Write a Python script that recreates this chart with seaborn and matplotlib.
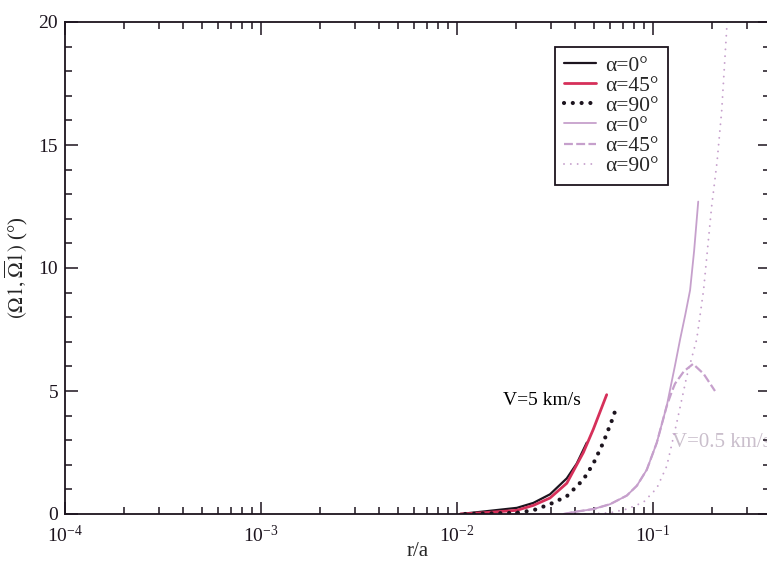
import numpy as np
import pandas as pd
import matplotlib
matplotlib.use('Agg')
import matplotlib.pyplot as plt
from matplotlib.ticker import MultipleLocator
import seaborn as sns

sns.set_style('ticks')
plt.rcParams['font.family'] = ['Liberation Serif', 'DejaVu Serif']
plt.rcParams['mathtext.fontset'] = 'stix'

# V = 5 km/s
r_v5_a0 = [0.0104, 0.0136, 0.0202, 0.0245, 0.0298, 0.0363, 0.0408, 0.0459]
y_v5_a0 = [0.0, 0.1, 0.25, 0.45, 0.8, 1.45, 2.05, 2.9]
r_v5_a45 = [0.0104, 0.0136, 0.0202, 0.0245, 0.0298, 0.0363, 0.0441, 0.0496, 0.058]
y_v5_a45 = [0.0, 0.05, 0.15, 0.35, 0.65, 1.25, 2.5, 3.45, 4.85]
r_v5_a90 = [0.011, 0.0202, 0.0245, 0.0298, 0.0363, 0.0441, 0.0496, 0.0557, 0.0627, 0.0652]
y_v5_a90 = [0.0, 0.05, 0.15, 0.4, 0.72, 1.4, 2.05, 2.9, 3.95, 4.4]

# V = 0.5 km/s
r_v05_a0 = [0.035, 0.0408, 0.0496, 0.0604, 0.0735, 0.0827, 0.0929, 0.1045, 0.1175,
            0.1295, 0.1374, 0.1460, 0.1545, 0.162, 0.170]
y_v05_a0 = [0.0, 0.1, 0.2, 0.4, 0.75, 1.15, 1.8, 2.9, 4.4, 6.05, 7.1, 8.1, 9.1, 10.7, 12.7]
r_v05_a45 = [0.035, 0.0408, 0.0496, 0.0604, 0.0735, 0.0827, 0.0929, 0.1045, 0.1175,
             0.125, 0.1295, 0.1436, 0.160, 0.181, 0.207]
y_v05_a45 = [0.0, 0.1, 0.2, 0.4, 0.75, 1.15, 1.8, 2.9, 4.4, 5.0, 5.3, 5.8, 6.1, 5.7, 5.0]
r_v05_a90 = [0.045, 0.0604, 0.0735, 0.0894, 0.1045, 0.1175, 0.132, 0.1486, 0.167,
             0.181, 0.199, 0.212, 0.224, 0.240]
y_v05_a90 = [0.0, 0.05, 0.2, 0.48, 1.05, 1.95, 3.7, 5.6, 7.1, 9.1, 12.5, 14.3, 16.4, 20.3]

labels = ['α=0°', 'α=45°', 'α=90°', 'α=0°', 'α=45°', 'α=90°']

black = '#1c141e'
red = '#d6305a'
purple = '#c6a0cc'

fig = plt.figure(figsize=(7.67, 5.63), dpi=100)
ax = fig.add_axes([65 / 767, 49 / 563, 705 / 767, 492 / 563])

sns.lineplot(x=r_v5_a0, y=y_v5_a0, ax=ax, color=black, lw=1.6, label=labels[0])
sns.lineplot(x=r_v5_a45, y=y_v5_a45, ax=ax, color=red, lw=2.0, label=labels[1])
sns.lineplot(x=r_v5_a90, y=y_v5_a90, ax=ax, color=black, lw=3.0,
             linestyle=(0, (0.01, 2.1)), dash_capstyle='round', label=labels[2])
sns.lineplot(x=r_v05_a0, y=y_v05_a0, ax=ax, color=purple, lw=1.3, label=labels[3])
sns.lineplot(x=r_v05_a45, y=y_v05_a45, ax=ax, color=purple, lw=1.6,
             linestyle=(0, (4, 1.5)), label=labels[4])
sns.lineplot(x=r_v05_a90, y=y_v05_a90, ax=ax, color=purple, lw=1.4,
             linestyle=(0, (0.01, 3.5)), dash_capstyle='round', label=labels[5])

ax.set_xscale('log')
ax.set_xlim(1e-4, 0.395)
ax.set_ylim(0, 20)
ax.yaxis.set_major_locator(MultipleLocator(5))
ax.yaxis.set_minor_locator(MultipleLocator(1))

ax.text(0.0172, 4.6, 'V=5 km/s', fontsize=14, color='black', va='center', ha='left')
ax.text(0.125, 2.9, 'V=0.5 km/s', fontsize=15, color='#cabfcc', va='center',
        ha='left', zorder=0)

ax.set_xlabel('r/a', fontsize=15)
ax.xaxis.set_label_coords(0.5, -0.077)
ax.xaxis.label.set_va('center')
ax.set_ylabel(r'$(\Omega1,\overline{\Omega}1)$ (°)', fontsize=15, labelpad=6)

for s in ax.spines.values():
    s.set_linewidth(1.3)
    s.set_color(black)
ax.tick_params(which='both', direction='in', top=True, right=True, colors=black,
               labelsize=14, width=1.1)
ax.tick_params(which='major', length=9)
ax.tick_params(which='minor', length=5)
ax.tick_params(axis='x', which='major', pad=8)
ax.tick_params(axis='y', which='major', pad=5)

leg = ax.legend(loc='upper left', bbox_to_anchor=(0.695, 0.949), borderaxespad=0,
                fontsize=15.5, frameon=True, fancybox=False, handlelength=1.5,
                labelspacing=0.0, handletextpad=0.45, borderpad=0.4)
leg.get_frame().set_edgecolor(black)
leg.get_frame().set_linewidth(1.3)
leg.get_frame().set_alpha(1)

fig.savefig('out.png', dpi=100)
